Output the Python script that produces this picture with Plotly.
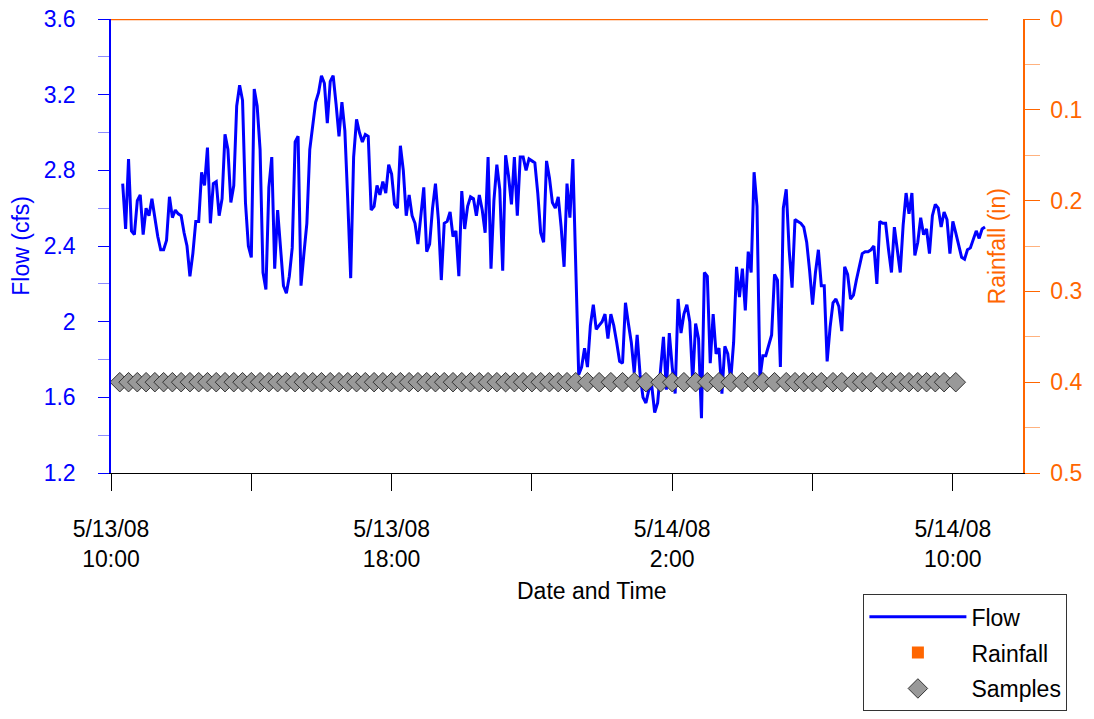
import pandas as pd
import plotly.graph_objects as go

# flow record, 5-minute readings starting 5/13/08 10:20
flow_start = "2008-05-13 10:20"
flow_cfs = [
    2.73, 2.49, 2.86, 2.48, 2.46, 2.64, 2.67, 2.46, 2.60, 2.56, 2.65, 2.55,
    2.45, 2.38, 2.38, 2.43, 2.66, 2.55, 2.59, 2.57, 2.56, 2.47, 2.40, 2.24,
    2.36, 2.53, 2.53, 2.79, 2.72, 2.92, 2.52, 2.73, 2.74, 2.56, 2.65, 2.99,
    2.91, 2.63, 2.72, 3.14, 3.25, 3.17, 2.63, 2.40, 2.34, 3.23, 3.14, 2.91,
    2.26, 2.17, 2.71, 2.87, 2.28, 2.59, 2.37, 2.19, 2.15, 2.24, 2.39, 2.95,
    2.98, 2.19, 2.36, 2.52, 2.91, 3.03, 3.16, 3.21, 3.30, 3.26, 3.05, 3.27,
    3.30, 3.15, 2.98, 3.16, 3.01, 2.64, 2.23, 2.87, 3.07, 3.00, 2.95, 2.99,
    2.98, 2.59, 2.61, 2.72, 2.67, 2.74, 2.68, 2.83, 2.78, 2.62, 2.60, 2.93,
    2.80, 2.56, 2.67, 2.56, 2.52, 2.41, 2.57, 2.71, 2.37, 2.41, 2.60, 2.73,
    2.54, 2.22, 2.52, 2.53, 2.58, 2.45, 2.48, 2.24, 2.69, 2.49, 2.61, 2.66,
    2.65, 2.56, 2.67, 2.59, 2.47, 2.87, 2.28, 2.64, 2.83, 2.70, 2.27, 2.88,
    2.77, 2.62, 2.87, 2.56, 2.87, 2.87, 2.80, 2.86, 2.85, 2.84, 2.68, 2.47,
    2.42, 2.85, 2.76, 2.63, 2.60, 2.66, 2.50, 2.29, 2.73, 2.55, 2.86, 2.31,
    1.72, 1.76, 1.86, 1.76, 1.98, 2.09, 1.96, 1.98, 2.00, 2.04, 1.91, 2.04,
    1.98, 1.89, 1.79, 1.78, 2.10, 1.99, 1.89, 1.73, 1.93, 1.72, 1.60, 1.57,
    1.64, 1.66, 1.52, 1.57, 1.75, 1.92, 1.64, 1.94, 1.76, 1.62, 2.12, 1.94,
    2.04, 2.09, 2.00, 1.68, 1.99, 1.91, 1.49, 2.26, 2.24, 1.78, 2.04, 1.83,
    1.86, 1.62, 1.87, 1.83, 1.69, 1.89, 2.29, 2.13, 2.28, 2.06, 2.37, 2.26,
    2.79, 2.61, 1.70, 1.82, 1.82, 1.87, 1.93, 2.25, 2.22, 1.76, 2.60, 2.70,
    2.38, 2.18, 2.54, 2.53, 2.52, 2.50, 2.42, 2.27, 2.09, 2.26, 2.38, 2.19,
    2.19, 1.79, 1.97, 2.10, 2.12, 2.08, 1.95, 2.29, 2.25, 2.12, 2.14, 2.22,
    2.30, 2.36, 2.37, 2.37, 2.38, 2.40, 2.20, 2.53, 2.52, 2.52, 2.38, 2.26,
    2.50, 2.38, 2.26, 2.51, 2.68, 2.57, 2.68, 2.35, 2.42, 2.55, 2.46, 2.49,
    2.36, 2.56, 2.62, 2.60, 2.50, 2.58, 2.54, 2.36, 2.53, 2.47, 2.40, 2.34,
    2.33, 2.38, 2.39, 2.43, 2.48, 2.44, 2.49, 2.50,
]

# rainfall, hourly (no rain recorded)
rain_start = "2008-05-13 10:00"
rain_in = [0.0] * 26

# sample times, minutes after 5/13/08 10:00, plotted at 0.4 in on the rain axis
sample_min = [
    15, 30, 45, 60, 75, 90, 105, 120, 135, 150, 165, 180, 195, 210, 225, 240,
    255, 270, 285, 300, 315, 330, 345, 360, 375, 390, 405, 420, 435, 450, 465,
    480, 495, 510, 525, 540, 555, 570, 585, 600, 615, 630, 645, 660, 675, 690,
    705, 720, 735, 750, 765, 780, 795, 815, 835, 855, 875, 895, 915, 940, 960,
    980, 1000, 1020, 1040, 1060, 1080, 1100, 1115, 1135, 1155, 1170, 1185,
    1200, 1215, 1235, 1250, 1270, 1285, 1300, 1320, 1335, 1350, 1365, 1380,
    1395, 1410, 1425, 1445,
]
sample_level = 0.4

x_ticks = ["2008-05-13 10:00", "2008-05-13 14:00", "2008-05-13 18:00", "2008-05-13 22:00",
           "2008-05-14 02:00", "2008-05-14 06:00", "2008-05-14 10:00"]
x_labels = ["5/13/08<br>10:00", "", "5/13/08<br>18:00", "", "5/14/08<br>2:00", "", "5/14/08<br>10:00"]
flow_ticks = [1.2, 1.6, 2.0, 2.4, 2.8, 3.2, 3.6]
flow_labels = ["1.2", "1.6", "2", "2.4", "2.8", "3.2", "3.6"]
rain_ticks = [0, 0.1, 0.2, 0.3, 0.4, 0.5]
rain_labels = ["0", "0.1", "0.2", "0.3", "0.4", "0.5"]

BLUE = "#0000FF"
ORANGE = "#FF6600"
FONT = "Liberation Sans, Arial, sans-serif"
FS = 23

flow_t = pd.date_range(flow_start, periods=len(flow_cfs), freq="5min")
rain_t = pd.date_range(rain_start, periods=len(rain_in), freq="60min")
t0 = pd.Timestamp("2008-05-13 10:00")
sample_t = [t0 + pd.Timedelta(minutes=m) for m in sample_min]

fig = go.Figure()
fig.add_trace(go.Scatter(
    x=flow_t, y=flow_cfs, name="Flow", mode="lines", legendgroup="a",
    line=dict(color=BLUE, width=3), yaxis="y",
))
fig.add_trace(go.Bar(
    x=rain_t, y=rain_in, name="Rainfall", yaxis="y2", legendgroup="b",
    marker=dict(color=ORANGE, line=dict(width=0)),
))
fig.add_trace(go.Scatter(
    x=rain_t, y=rain_in, mode="lines", showlegend=False, yaxis="y2", legendgroup="b",
    line=dict(color=ORANGE, width=2.4), hoverinfo="skip",
))
fig.add_trace(go.Scatter(
    x=sample_t, y=[sample_level] * len(sample_t), name="Samples", mode="markers",
    legendgroup="c",
    marker=dict(symbol="diamond", size=15, color="#999999", line=dict(color="#333333", width=1)),
    yaxis="y2",
))

fig.update_layout(
    width=1094, height=719,
    margin=dict(l=103, r=79, t=11, b=254),
    paper_bgcolor="white", plot_bgcolor="white",
    font=dict(family=FONT, size=FS, color="black"),
    showlegend=True,
    legend=dict(
        x=0.825, y=-0.267, xanchor="left", yanchor="top",
        bordercolor="#333333", borderwidth=1, bgcolor="white",
        font=dict(size=FS), itemwidth=97, traceorder="grouped", tracegroupgap=3,
    ),
    xaxis=dict(
        type="date", range=["2008-05-13 10:00", "2008-05-14 12:00"],
        tickvals=x_ticks, ticktext=x_labels, automargin=False,
        ticks="outside", ticklen=17, tickcolor="black", tickwidth=1,
        showline=True, linecolor="black", linewidth=1,
        showgrid=False, zeroline=False, ticklabelstandoff=18, ticklabeloverflow="allow",
        tickfont=dict(size=FS, color="black"),
    ),
    yaxis=dict(
        range=[1.2, 3.6], tickvals=flow_ticks, ticktext=flow_labels, automargin=False,
        ticks="outside", ticklen=11, tickcolor=BLUE, tickwidth=1,
        minor=dict(dtick=0.2, tick0=1.2, ticks="outside", ticklen=11, tickcolor="rgba(0,0,255,0.45)"),
        showline=True, linecolor=BLUE, linewidth=1.5,
        showgrid=False, zeroline=False, ticklabelstandoff=18, ticklabeloverflow="allow",
        tickfont=dict(size=FS, color=BLUE),
    ),
    yaxis2=dict(
        overlaying="y", side="right", range=[0.5, 0], automargin=False,
        tickvals=rain_ticks, ticktext=rain_labels,
        ticks="outside", ticklen=15, tickcolor=ORANGE, tickwidth=1,
        minor=dict(dtick=0.05, tick0=0, ticks="outside", ticklen=15, tickcolor="rgba(255,102,0,0.5)"),
        showline=True, linecolor=ORANGE, linewidth=1.5,
        showgrid=False, zeroline=False, ticklabelstandoff=6, ticklabeloverflow="allow",
        tickfont=dict(size=FS, color=ORANGE),
    ),
    annotations=[
        dict(text="Flow (cfs)", xref="paper", yref="paper", x=-0.099, y=0.5,
             xanchor="center", yanchor="middle",
             textangle=-90, showarrow=False, font=dict(size=FS, color=BLUE)),
        dict(text="Rainfall (in)", xref="paper", yref="paper", x=0.972, y=0.5,
             xanchor="center", yanchor="middle",
             textangle=-90, showarrow=False, font=dict(size=FS, color=ORANGE)),
        dict(text="Date and Time", xref="paper", yref="paper", x=0.527, y=-0.26,
             xanchor="center", yanchor="middle", showarrow=False, font=dict(size=FS, color="black")),
    ],
)

fig.write_html("out.html")
